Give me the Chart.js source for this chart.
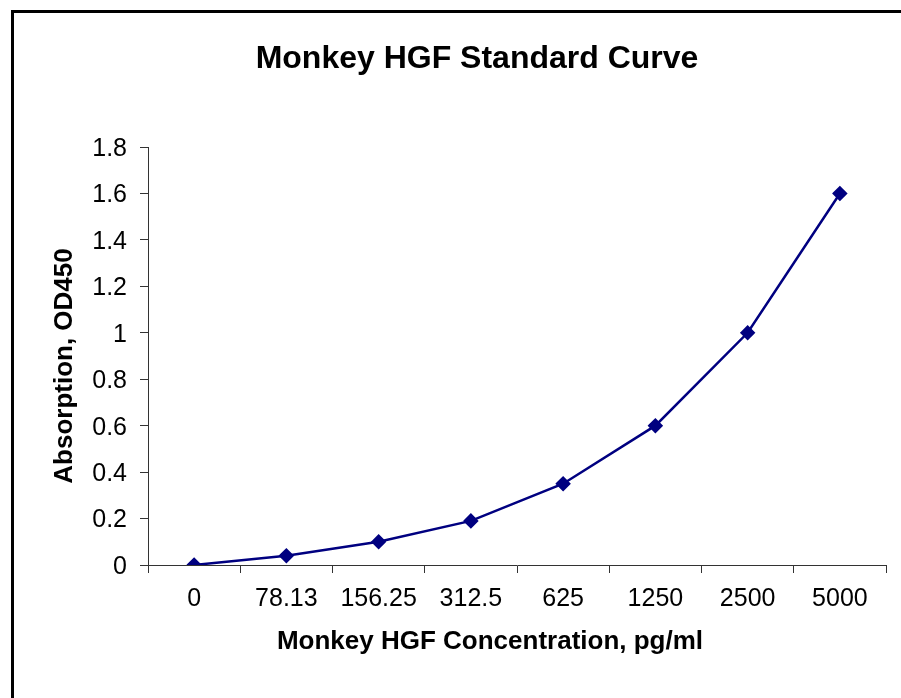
<!DOCTYPE html>
<html>
<head>
<meta charset="utf-8">
<script src="https://cdn.jsdelivr.net/npm/chart.js@4/dist/chart.umd.min.js"></script>
<style>
  html, body { margin: 0; padding: 0; background: #fff; }
  #wrap { width: 901px; height: 698px; }
</style>
</head>
<body>
<div id="wrap"><canvas id="hgf-curve"></canvas></div>
<script>
var concentrations = ['0', '78.13', '156.25', '312.5', '625', '1250', '2500', '5000'];
var absorbance = [0, 0.04, 0.1, 0.19, 0.35, 0.6, 1.0, 1.6];
var chartTitle = 'Monkey HGF Standard Curve';
var xTitle = 'Monkey HGF Concentration, pg/ml';
var yTitle = 'Absorption, OD450';

var fontFamily = "'Liberation Sans', Arial, sans-serif";

// frame and titles, drawn the way the old spreadsheet chart places them
var frameAndTitles = {
    id: 'frameAndTitles',
    afterDraw: function (chart) {
        var ctx = chart.ctx;
        var area = chart.chartArea;
        ctx.save();
        ctx.strokeStyle = '#000';
        ctx.lineWidth = 3;
        ctx.strokeRect(12.5, 11.5, 1000, 1000);

        ctx.fillStyle = '#000';
        ctx.textAlign = 'center';
        ctx.textBaseline = 'middle';
        ctx.font = 'bold 32px ' + fontFamily;
        ctx.fillText(chartTitle, 477, 59);

        ctx.font = 'bold 26px ' + fontFamily;
        ctx.fillText(xTitle, area.left + 342, area.bottom + 77);

        ctx.translate(65, area.top + 219);
        ctx.rotate(-Math.PI / 2);
        ctx.fillText(yTitle, 0, 0);
        ctx.restore();
    }
};

var ctx = document.getElementById('hgf-curve');
var chart = new Chart(ctx, {
    type: 'line',
    data: {
        labels: concentrations,
        datasets: [{
            data: absorbance,
            borderColor: '#000080',
            backgroundColor: '#000080',
            borderWidth: 2.5,
            pointStyle: 'rectRot',
            pointRadius: 6,
            pointHoverRadius: 6,
            tension: 0
        }]
    },
    options: {
        responsive: true,
        maintainAspectRatio: false,
        animation: false,
        layout: {
            padding: { top: 147, left: 0, right: 15, bottom: 73 }
        },
        plugins: {
            legend: { display: false },
            title: { display: false },
            tooltip: { enabled: false }
        },
        scales: {
            x: {
                offset: true,
                afterFit: function (scale) { scale.height = 60; },
                grid: {
                    offset: true,
                    drawOnChartArea: false,
                    tickLength: 8,
                    color: '#333'
                },
                border: { color: '#333', width: 1 },
                ticks: {
                    color: '#000',
                    padding: 11,
                    maxRotation: 0,
                    font: { family: fontFamily, size: 25 }
                }
            },
            y: {
                min: 0,
                max: 1.8,
                afterFit: function (scale) { scale.width = 148; },
                grid: {
                    drawOnChartArea: false,
                    tickLength: 8,
                    color: '#333'
                },
                border: { color: '#333', width: 1 },
                ticks: {
                    stepSize: 0.2,
                    color: '#000',
                    padding: 13,
                    labelOffset: 2,
                    font: { family: fontFamily, size: 25 },
                    callback: function (v) { return Math.round(v * 10) / 10; }
                }
            }
        }
    },
    plugins: [frameAndTitles]
});
</script>
</body>
</html>
